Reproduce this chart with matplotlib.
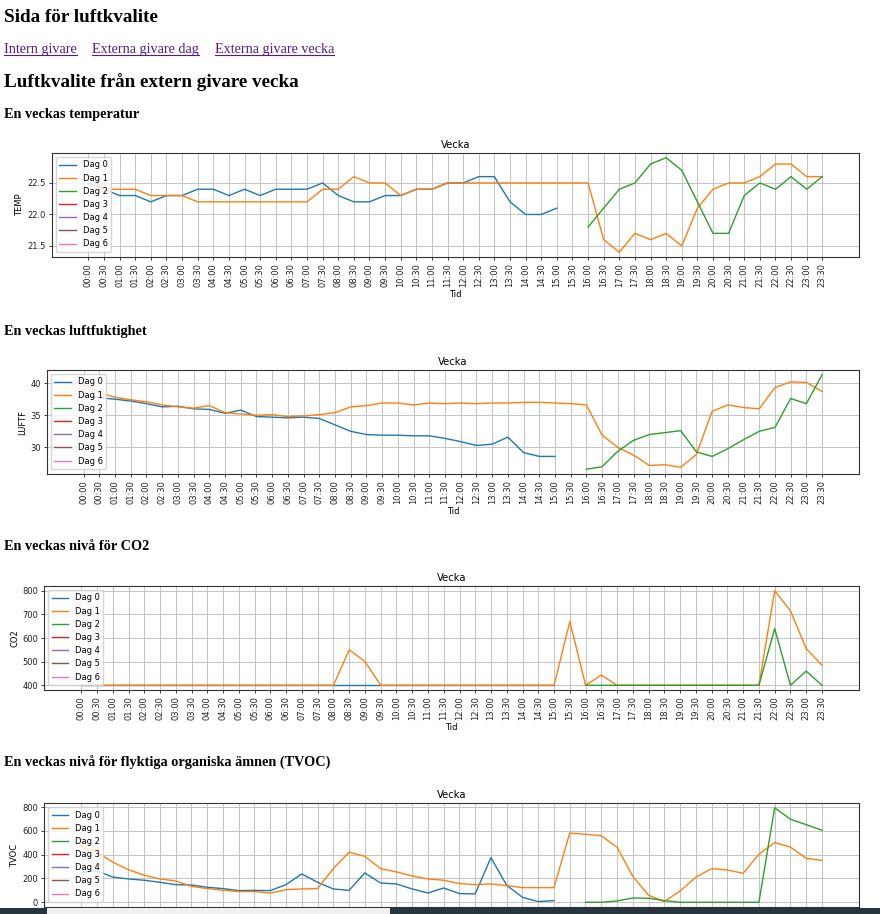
import matplotlib
matplotlib.use("Agg")
import matplotlib.pyplot as plt
from matplotlib.lines import Line2D
from matplotlib.patches import Rectangle
from matplotlib.ticker import MultipleLocator

# half-hour slots of the week view
TIMES = [f"{h:02d}:{m:02d}" for h in range(24) for m in (0, 30)]
DAYS = ["Dag 0", "Dag 1", "Dag 2", "Dag 3", "Dag 4", "Dag 5", "Dag 6"]

# temperature
temp_dag0 = [22.5, 22.4, 22.3, 22.3, 22.2, 22.3, 22.3, 22.4, 22.4, 22.3,
             22.4, 22.3, 22.4, 22.4, 22.4, 22.5, 22.3, 22.2, 22.2, 22.3,
             22.3, 22.4, 22.4, 22.5, 22.5, 22.6, 22.6, 22.2, 22.0, 22.0,
             22.1]
temp_dag1 = [22.6, 22.4, 22.4, 22.4, 22.3, 22.3, 22.3, 22.2, 22.2, 22.2,
             22.2, 22.2, 22.2, 22.2, 22.2, 22.4, 22.4, 22.6, 22.5, 22.5,
             22.3, 22.4, 22.4, 22.5, 22.5, 22.5, 22.5, 22.5, 22.5, 22.5,
             22.5, 22.5, 22.5, 21.6, 21.4, 21.7, 21.6, 21.7, 21.5, 22.1,
             22.4, 22.5, 22.5, 22.6, 22.8, 22.8, 22.6, 22.6]
temp_dag2 = [21.8, 22.1, 22.4, 22.5, 22.8, 22.9, 22.7, 22.2, 21.7, 21.7,
             22.3, 22.5, 22.4, 22.6, 22.4, 22.6]

# humidity
luft_dag0 = [38.1, 37.7, 37.5, 37.2, 36.8, 36.3, 36.4, 36.0, 35.9, 35.3,
             35.8, 34.8, 34.7, 34.6, 34.7, 34.5, 33.5, 32.5, 32.0, 31.9,
             31.9, 31.8, 31.8, 31.4, 30.9, 30.3, 30.5, 31.6, 29.2, 28.6,
             28.6]
luft_dag1 = [39.8, 38.5, 37.8, 37.4, 37.1, 36.6, 36.3, 36.1, 36.5, 35.4,
             35.2, 35.0, 35.1, 34.8, 34.9, 35.1, 35.4, 36.3, 36.5, 36.9,
             36.9, 36.6, 36.9, 36.8, 36.9, 36.8, 36.9, 36.9, 37.0, 37.0,
             36.9, 36.8, 36.6, 31.9, 30.0, 28.8, 27.2, 27.3, 26.9, 28.9,
             35.6, 36.6, 36.2, 36.0, 39.3, 40.2, 40.1, 38.7]
luft_dag2 = [26.6, 27.0, 29.4, 31.1, 32.0, 32.3, 32.6, 29.3, 28.6, 29.8,
             31.2, 32.5, 33.1, 37.6, 36.8, 41.3]

# CO2
co2_dag0 = [400, 400, 400, 400, 400, 400, 400, 400, 400, 400,
            400, 400, 400, 400, 400, 400, 400, 400, 400, 400,
            400, 400, 400, 400, 400, 400, 400, 400, 400, 400,
            400]
co2_dag1 = [400, 400, 400, 400, 400, 400, 400, 400, 400, 400,
            400, 400, 400, 400, 400, 400, 400, 550, 500, 400,
            400, 400, 400, 400, 400, 400, 400, 400, 400, 400,
            400, 670, 400, 443, 400, 400, 400, 400, 400, 400,
            400, 400, 400, 400, 800, 715, 555, 485]
co2_dag2 = [400, 400, 400, 400, 400, 400, 400, 400, 400, 400,
            400, 400, 640, 400, 460, 400]

# TVOC
tvoc_dag0 = [250, 265, 212, 196, 185, 168, 148, 145, 126, 115,
             98, 100, 98, 148, 238, 168, 112, 100, 246, 162,
             154, 112, 78, 120, 73, 70, 375, 143, 42, 6,
             14]
tvoc_dag1 = [475, 420, 338, 274, 227, 196, 179, 134, 115, 101,
             90, 90, 78, 106, 112, 115, 283, 420, 386, 283,
             255, 221, 196, 185, 157, 148, 154, 140, 123, 123,
             123, 582, 571, 559, 462, 218, 59, 6, 95, 210,
             283, 271, 243, 403, 501, 464, 369, 352]
tvoc_dag2 = [0, 0, 11, 36, 34, 14, 0, 0, 0, 0,
             0, 0, 794, 697, 652, 604]

# start slot of each day's series
STARTS = {"Dag 0": "00:00", "Dag 1": "00:00", "Dag 2": "16:00"}

W, H = 880, 914
S = 0.6  # the charts are shown at reduced size on the page

plt.rcParams.update({
    "font.family": "DejaVu Sans",
    "font.size": 10 * S,
    "axes.titlesize": 12 * S,
    "axes.titlepad": 6 * S,
    "axes.labelpad": 4 * S,
    "axes.linewidth": 0.8,
    "axes.edgecolor": "#333333",
    "lines.linewidth": 1.0,
    "xtick.major.size": 3.5 * S,
    "ytick.major.size": 3.5 * S,
    "xtick.major.width": 0.6,
    "ytick.major.width": 0.6,
    "xtick.major.pad": 3.5 * S,
    "ytick.major.pad": 3.5 * S,
    "xtick.color": "#222222",
    "ytick.color": "#222222",
    "legend.fontsize": 10 * S,
    "grid.color": "#c4c4c4",
    "grid.linewidth": 0.7,
})


def fx(x):
    return x / W


def fy(y):
    return 1 - y / H


def week_chart(ax, series, ylabel, ystep, xlabel="Tid"):
    for name in DAYS:
        if name in series:
            vals = series[name]
            i0 = TIMES.index(STARTS[name])
            ax.plot(range(i0, i0 + len(vals)), vals, label=name)
        else:
            ax.plot([], [], label=name)
    ax.set_xticks(range(len(TIMES)))
    ax.set_xticklabels(TIMES, rotation=90)
    ax.yaxis.set_major_locator(MultipleLocator(ystep))
    ax.set_title("Vecka")
    ax.set_ylabel(ylabel)
    ax.set_xlabel(xlabel)
    ax.grid(True)
    ax.legend(loc="upper left")


fig = plt.figure(figsize=(W / 100, H / 100), dpi=100)

charts = [
    (51.7, 257, {"Dag 0": temp_dag0, "Dag 1": temp_dag1, "Dag 2": temp_dag2}, "TEMP", 0.5),
    (46.7, 474, {"Dag 0": luft_dag0, "Dag 1": luft_dag1, "Dag 2": luft_dag2}, "LUFTF", 5),
    (44.3, 690, {"Dag 0": co2_dag0, "Dag 1": co2_dag1, "Dag 2": co2_dag2}, "CO2", 100),
    (44.0, 907, {"Dag 0": tvoc_dag0, "Dag 1": tvoc_dag1, "Dag 2": tvoc_dag2}, "TVOC", 200),
]
for left, bottom, series, lab, step in charts:
    ax = fig.add_axes([fx(left), fy(bottom), fx(859 - left), 104 / H])
    week_chart(ax, series, lab, step)

# page text around the charts
serif = "Liberation Serif"
fig.text(fx(4), fy(22), "Sida för luftkvalite", family=serif, weight="bold",
         size=13.8, va="baseline")
fig.text(fx(4), fy(86.7), "Luftkvalite från extern givare vecka", family=serif,
         weight="bold", size=13.8, va="baseline")
headers = [(117.7, "En veckas temperatur"),
           (335, "En veckas luftfuktighet"),
           (550.5, "En veckas nivå för CO2"),
           (767, "En veckas nivå för flyktiga organiska ämnen (TVOC)")]
for y, txt in headers:
    fig.text(fx(4), fy(y), txt, family=serif, weight="bold", size=10.3,
             va="baseline")

links = [(4, "Intern givare"), (92, "Externa givare dag"),
         (215, "Externa givare vecka")]
link_texts = []
for x, txt in links:
    link_texts.append(fig.text(fx(x), fy(52.7), txt, family=serif, size=10.2,
                               color="#551a8b", va="baseline"))
fig.canvas.draw()
r = fig.canvas.get_renderer()
for t in link_texts:
    bb = t.get_window_extent(r)
    fig.add_artist(Line2D([bb.x0 / W, bb.x1 / W], [fy(54.6), fy(54.6)],
                          transform=fig.transFigure, color="#551a8b", lw=0.8))

# browser scrollbar cutting off the last chart
fig.add_artist(Rectangle((0, 0), 1, 6 / H, transform=fig.transFigure,
                         facecolor="#27363e", edgecolor="none", zorder=10))
fig.add_artist(Rectangle((fx(47), 0), fx(390 - 47), 6 / H,
                         transform=fig.transFigure, facecolor="#f0f0f0",
                         edgecolor="none", zorder=11))

fig.savefig("out.png", dpi=100)
